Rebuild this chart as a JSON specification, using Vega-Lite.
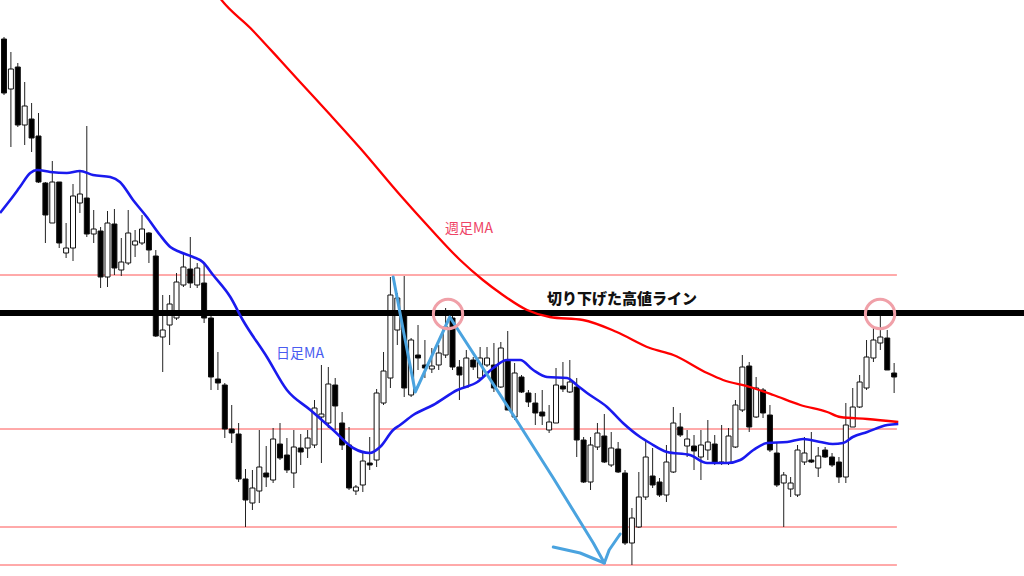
{
  "$schema": "https://vega.github.io/schema/vega-lite/v6.json",
  "width": 1024,
  "height": 576,
  "autosize": {"type": "fit", "contains": "padding"},
  "padding": 0,
  "background": "white",
  "config": {"view": {"stroke": null}, "scale": {"continuousPadding": 0}},
  "datasets": {
    "candles": [
      {"i":0,"o":105.37,"c":104.83,"h":105.39,"l":104.81},
      {"i":1,"o":104.87,"c":105.07,"h":105.24,"l":104.29},
      {"i":2,"o":105.09,"c":104.51,"h":105.13,"l":104.49},
      {"i":3,"o":104.51,"c":104.70,"h":104.94,"l":104.31},
      {"i":4,"o":104.57,"c":104.38,"h":104.73,"l":104.24},
      {"i":5,"o":104.40,"c":103.94,"h":104.63,"l":103.93},
      {"i":6,"o":103.93,"c":103.61,"h":103.94,"l":103.33},
      {"i":7,"o":103.53,"c":103.94,"h":104.15,"l":103.53},
      {"i":8,"o":103.94,"c":103.33,"h":103.94,"l":103.28},
      {"i":9,"o":103.23,"c":103.28,"h":103.53,"l":103.18},
      {"i":10,"o":103.28,"c":103.80,"h":103.92,"l":103.15},
      {"i":11,"o":103.73,"c":103.82,"h":104.06,"l":103.63},
      {"i":12,"o":103.78,"c":103.42,"h":104.50,"l":103.39},
      {"i":13,"o":103.42,"c":103.47,"h":103.66,"l":103.33},
      {"i":14,"o":103.45,"c":102.99,"h":103.49,"l":102.88},
      {"i":15,"o":102.99,"c":103.53,"h":103.65,"l":102.89},
      {"i":16,"o":103.52,"c":103.08,"h":103.67,"l":103.01},
      {"i":17,"o":103.06,"c":103.14,"h":103.38,"l":103.00},
      {"i":18,"o":103.13,"c":103.43,"h":103.66,"l":103.11},
      {"i":19,"o":103.31,"c":103.35,"h":103.46,"l":103.19},
      {"i":20,"o":103.33,"c":103.47,"h":103.61,"l":103.31},
      {"i":21,"o":103.43,"c":103.26,"h":103.44,"l":103.13},
      {"i":22,"o":103.20,"c":102.40,"h":103.26,"l":102.39},
      {"i":23,"o":102.39,"c":102.46,"h":102.81,"l":102.04},
      {"i":24,"o":102.51,"c":102.72,"h":102.81,"l":102.31},
      {"i":25,"o":102.58,"c":102.94,"h":103.03,"l":102.56},
      {"i":26,"o":102.91,"c":103.09,"h":103.23,"l":102.89},
      {"i":27,"o":103.07,"c":102.93,"h":103.39,"l":102.88},
      {"i":28,"o":102.91,"c":103.08,"h":103.13,"l":102.88},
      {"i":29,"o":102.93,"c":102.58,"h":103.13,"l":102.53},
      {"i":30,"o":102.58,"c":101.99,"h":102.66,"l":101.86},
      {"i":31,"o":101.97,"c":101.93,"h":102.24,"l":101.86},
      {"i":32,"o":101.91,"c":101.47,"h":101.93,"l":101.38},
      {"i":33,"o":101.47,"c":101.43,"h":101.71,"l":101.33},
      {"i":34,"o":101.42,"c":100.97,"h":101.53,"l":100.94},
      {"i":35,"o":100.97,"c":100.76,"h":101.07,"l":100.49},
      {"i":36,"o":100.73,"c":100.88,"h":101.06,"l":100.66},
      {"i":37,"o":100.85,"c":101.09,"h":101.46,"l":100.73},
      {"i":38,"o":101.03,"c":100.99,"h":101.30,"l":100.89},
      {"i":39,"o":100.96,"c":101.37,"h":101.48,"l":100.93},
      {"i":40,"o":101.32,"c":101.18,"h":101.53,"l":101.16},
      {"i":41,"o":101.21,"c":101.06,"h":101.38,"l":101.03},
      {"i":42,"o":101.03,"c":101.29,"h":101.46,"l":100.88},
      {"i":43,"o":101.28,"c":101.24,"h":101.42,"l":101.11},
      {"i":44,"o":101.28,"c":101.38,"h":101.46,"l":101.18},
      {"i":45,"o":101.31,"c":101.68,"h":101.76,"l":101.28},
      {"i":46,"o":101.59,"c":101.62,"h":102.11,"l":101.13},
      {"i":47,"o":101.53,"c":101.92,"h":102.09,"l":101.48},
      {"i":48,"o":101.91,"c":101.70,"h":101.98,"l":101.46},
      {"i":49,"o":101.53,"c":101.31,"h":101.64,"l":101.26},
      {"i":50,"o":101.31,"c":100.88,"h":101.49,"l":100.86},
      {"i":51,"o":100.85,"c":100.89,"h":100.91,"l":100.81},
      {"i":52,"o":100.91,"c":101.15,"h":101.23,"l":100.84},
      {"i":53,"o":101.13,"c":101.11,"h":101.39,"l":101.06},
      {"i":54,"o":101.16,"c":101.83,"h":101.87,"l":101.09},
      {"i":55,"o":101.73,"c":102.05,"h":102.24,"l":101.71},
      {"i":56,"o":101.98,"c":102.81,"h":102.99,"l":101.88},
      {"i":57,"o":102.46,"c":102.78,"h":102.83,"l":102.31},
      {"i":58,"o":102.64,"c":101.88,"h":103.00,"l":101.79},
      {"i":59,"o":101.81,"c":102.36,"h":102.38,"l":101.79},
      {"i":60,"o":102.21,"c":102.18,"h":102.51,"l":102.06},
      {"i":61,"o":102.11,"c":102.08,"h":102.36,"l":101.98},
      {"i":62,"o":102.07,"c":102.10,"h":102.28,"l":102.03},
      {"i":63,"o":102.11,"c":102.23,"h":102.31,"l":102.06},
      {"i":64,"o":102.21,"c":102.49,"h":102.68,"l":102.18},
      {"i":65,"o":102.58,"c":102.09,"h":102.66,"l":102.06},
      {"i":66,"o":102.09,"c":102.01,"h":102.16,"l":101.76},
      {"i":67,"o":101.89,"c":102.18,"h":102.26,"l":101.88},
      {"i":68,"o":102.16,"c":102.09,"h":102.19,"l":102.06},
      {"i":69,"o":101.98,"c":102.18,"h":102.29,"l":101.96},
      {"i":70,"o":102.11,"c":102.18,"h":102.29,"l":102.09},
      {"i":71,"o":102.11,"c":101.88,"h":102.33,"l":101.84},
      {"i":72,"o":101.89,"c":102.28,"h":102.34,"l":101.88},
      {"i":73,"o":102.16,"c":101.66,"h":102.45,"l":101.66},
      {"i":74,"o":101.59,"c":102.03,"h":102.13,"l":101.56},
      {"i":75,"o":101.99,"c":101.84,"h":102.01,"l":101.83},
      {"i":76,"o":101.83,"c":101.74,"h":101.86,"l":101.69},
      {"i":77,"o":101.73,"c":101.63,"h":101.83,"l":101.51},
      {"i":78,"o":101.64,"c":101.60,"h":101.86,"l":101.51},
      {"i":79,"o":101.46,"c":101.54,"h":101.71,"l":101.43},
      {"i":80,"o":101.53,"c":101.91,"h":102.08,"l":101.53},
      {"i":81,"o":101.90,"c":101.87,"h":102.14,"l":101.84},
      {"i":82,"o":101.84,"c":101.94,"h":102.16,"l":101.83},
      {"i":83,"o":101.89,"c":101.36,"h":101.98,"l":101.19},
      {"i":84,"o":101.36,"c":100.94,"h":101.39,"l":100.93},
      {"i":85,"o":100.94,"c":101.31,"h":101.39,"l":100.86},
      {"i":86,"o":101.29,"c":101.43,"h":101.53,"l":101.26},
      {"i":87,"o":101.40,"c":101.14,"h":101.62,"l":101.13},
      {"i":88,"o":101.11,"c":101.28,"h":101.44,"l":101.09},
      {"i":89,"o":101.27,"c":101.04,"h":101.34,"l":101.03},
      {"i":90,"o":101.03,"c":100.33,"h":101.06,"l":100.31},
      {"i":91,"o":100.33,"c":100.58,"h":100.68,"l":100.11},
      {"i":92,"o":100.49,"c":100.79,"h":101.04,"l":100.48},
      {"i":93,"o":100.79,"c":101.19,"h":101.36,"l":100.76},
      {"i":94,"o":101.00,"c":100.91,"h":101.28,"l":100.88},
      {"i":95,"o":100.94,"c":100.81,"h":100.98,"l":100.79},
      {"i":96,"o":100.81,"c":101.14,"h":101.31,"l":100.74},
      {"i":97,"o":101.04,"c":101.53,"h":101.69,"l":101.03},
      {"i":98,"o":101.49,"c":101.41,"h":101.63,"l":101.39},
      {"i":99,"o":101.30,"c":101.37,"h":101.46,"l":101.19},
      {"i":100,"o":101.30,"c":101.25,"h":101.41,"l":101.06},
      {"i":101,"o":101.19,"c":101.31,"h":101.46,"l":100.96},
      {"i":102,"o":101.26,"c":101.34,"h":101.56,"l":101.16},
      {"i":103,"o":101.32,"c":101.13,"h":101.41,"l":101.11},
      {"i":104,"o":101.13,"c":101.14,"h":101.51,"l":101.11},
      {"i":105,"o":101.13,"c":101.40,"h":101.48,"l":101.11},
      {"i":106,"o":101.29,"c":101.71,"h":101.76,"l":101.28},
      {"i":107,"o":101.66,"c":102.09,"h":102.21,"l":101.64},
      {"i":108,"o":102.10,"c":101.49,"h":102.14,"l":101.44},
      {"i":109,"o":101.59,"c":101.88,"h":101.99,"l":101.58},
      {"i":110,"o":101.86,"c":101.63,"h":101.88,"l":101.58},
      {"i":111,"o":101.61,"c":101.26,"h":101.71,"l":101.24},
      {"i":112,"o":101.23,"c":100.91,"h":101.33,"l":100.89},
      {"i":113,"o":100.93,"c":101.01,"h":101.04,"l":100.49},
      {"i":114,"o":100.87,"c":100.93,"h":100.99,"l":100.79},
      {"i":115,"o":100.81,"c":101.26,"h":101.31,"l":100.79},
      {"i":116,"o":101.14,"c":101.23,"h":101.39,"l":101.11},
      {"i":117,"o":101.16,"c":101.14,"h":101.44,"l":101.13},
      {"i":118,"o":101.08,"c":101.20,"h":101.29,"l":100.99},
      {"i":119,"o":101.26,"c":101.19,"h":101.29,"l":101.18},
      {"i":120,"o":101.19,"c":101.11,"h":101.23,"l":101.09},
      {"i":121,"o":101.14,"c":100.99,"h":101.19,"l":100.93},
      {"i":122,"o":100.99,"c":101.51,"h":101.73,"l":100.93},
      {"i":123,"o":101.49,"c":101.69,"h":101.88,"l":101.49},
      {"i":124,"o":101.69,"c":101.94,"h":102.01,"l":101.68},
      {"i":125,"o":101.88,"c":102.19,"h":102.36,"l":101.86},
      {"i":126,"o":102.18,"c":102.36,"h":102.48,"l":102.14},
      {"i":127,"o":102.33,"c":102.39,"h":102.61,"l":102.26},
      {"i":128,"o":102.38,"c":102.06,"h":102.46,"l":102.06},
      {"i":129,"o":102.03,"c":101.99,"h":102.13,"l":101.83}
    ],
    "dailyMA": [
      {"i":-0.58,"p":103.63},{"i":0.9,"p":103.76},{"i":2.3,"p":103.89},{"i":3.8,"p":104.03},
      {"i":4.8,"p":104.06},{"i":6.7,"p":104.04},{"i":9.1,"p":104.03},{"i":11.0,"p":104.05},
      {"i":12.9,"p":104.01},{"i":15.4,"p":103.99},{"i":16.8,"p":103.94},{"i":18.7,"p":103.76},
      {"i":20.7,"p":103.59},{"i":22.6,"p":103.41},{"i":24.1,"p":103.29},{"i":25.5,"p":103.24},
      {"i":27.4,"p":103.19},{"i":28.8,"p":103.14},{"i":30.3,"p":103.01},{"i":32.8,"p":102.79},
      {"i":34.6,"p":102.56},{"i":38.1,"p":102.19},{"i":41.0,"p":101.86},{"i":44.4,"p":101.66},
      {"i":47.7,"p":101.46},{"i":50.6,"p":101.28},{"i":53.0,"p":101.23},{"i":54.5,"p":101.29},
      {"i":56.4,"p":101.46},{"i":57.4,"p":101.51},{"i":59.3,"p":101.61},{"i":62.2,"p":101.71},
      {"i":65.7,"p":101.86},{"i":68.6,"p":101.94},{"i":70.9,"p":102.08},{"i":72.9,"p":102.16},
      {"i":74.8,"p":102.16},{"i":76.7,"p":102.06},{"i":78.7,"p":101.99},{"i":81.6,"p":101.98},
      {"i":83.0,"p":101.91},{"i":84.5,"p":101.83},{"i":87.4,"p":101.69},{"i":89.7,"p":101.53},
      {"i":92.2,"p":101.39},{"i":93.6,"p":101.33},{"i":96.1,"p":101.24},{"i":99.4,"p":101.21},
      {"i":101.9,"p":101.13},{"i":104.8,"p":101.13},{"i":106.7,"p":101.16},{"i":108.6,"p":101.26},
      {"i":110.6,"p":101.33},{"i":113.5,"p":101.34},{"i":115.8,"p":101.37},{"i":118.3,"p":101.34},
      {"i":120.1,"p":101.32},{"i":121.6,"p":101.33},{"i":123.0,"p":101.39},{"i":125.1,"p":101.44},
      {"i":128.0,"p":101.51},{"i":129.6,"p":101.52}
    ],
    "weeklyMA": [
      {"i":30.5,"p":105.86},{"i":31.3,"p":105.78},{"i":35.7,"p":105.48},{"i":40.0,"p":105.16},
      {"i":42.9,"p":104.94},{"i":47.3,"p":104.61},{"i":51.6,"p":104.28},{"i":57.4,"p":103.81},
      {"i":61.7,"p":103.48},{"i":66.1,"p":103.16},{"i":69.4,"p":102.96},{"i":71.9,"p":102.83},
      {"i":75.8,"p":102.66},{"i":79.1,"p":102.59},{"i":83.9,"p":102.56},{"i":88.8,"p":102.44},
      {"i":93.6,"p":102.28},{"i":97.0,"p":102.21},{"i":101.9,"p":102.03},{"i":104.2,"p":101.96},
      {"i":108.1,"p":101.89},{"i":111.5,"p":101.81},{"i":115.4,"p":101.71},{"i":119.3,"p":101.64},
      {"i":121.2,"p":101.59},{"i":125.1,"p":101.57},{"i":129.6,"p":101.54}
    ],
    "levels": [
      {"p":103.01,"a":-0.58,"b":129.4},
      {"p":101.47,"a":-0.58,"b":129.4},
      {"p":100.49,"a":-0.58,"b":129.4},
      {"p":100.11,"a":-0.58,"b":129.4}
    ],
    "resistance": [{"p":102.63,"a":-0.58,"b":147.82}],
    "sketch": [
      {"g":"zig","k":1,"i":56.4,"p":102.99},
      {"g":"zig","k":2,"i":58.0,"p":102.41},
      {"g":"zig","k":3,"i":59.6,"p":101.84},
      {"g":"zig","k":4,"i":64.6,"p":102.59},
      {"g":"zig","k":5,"i":73.8,"p":101.61},
      {"g":"zig","k":6,"i":79.6,"p":100.98},
      {"g":"zig","k":7,"i":85.4,"p":100.33},
      {"g":"zig","k":8,"i":87.0,"p":100.13},
      {"g":"arrow","k":1,"i":79.6,"p":100.29},
      {"g":"arrow","k":2,"i":83.5,"p":100.23},
      {"g":"arrow","k":3,"i":87.0,"p":100.13},
      {"g":"arrow","k":4,"i":87.7,"p":100.26},
      {"g":"arrow","k":5,"i":89.3,"p":100.42}
    ],
    "rings": [
      {"i":64.35,"p":102.62},
      {"i":126.96,"p":102.62}
    ]
  },
  "layer": [
    {
      "data": {"name": "levels"},
      "mark": {"type": "rule", "color": "#ff5555", "strokeWidth": 1, "clip": true},
      "encoding": {
        "x": {"field": "a", "type": "quantitative", "axis": null, "scale": {"domain": [-0.58, 147.82], "nice": false, "zero": false, "padding": 0}},
        "x2": {"field": "b"},
        "y": {"field": "p", "type": "quantitative", "axis": null, "scale": {"domain": [100, 105.76], "nice": false, "zero": false, "padding": 0}}
      }
    },
    {
      "data": {"name": "candles"},
      "mark": {"type": "rule", "color": "#222222", "strokeWidth": 1, "clip": true},
      "encoding": {
        "x": {"field": "i", "type": "quantitative", "axis": null, "scale": {"domain": [-0.58, 147.82], "nice": false, "zero": false, "padding": 0}},
        "y": {"field": "l", "type": "quantitative", "axis": null, "scale": {"domain": [100, 105.76], "nice": false, "zero": false, "padding": 0}},
        "y2": {"field": "h"}
      }
    },
    {
      "data": {"name": "candles"},
      "mark": {"type": "bar", "size": 5, "stroke": "#111111", "strokeWidth": 1, "clip": true},
      "encoding": {
        "x": {"field": "i", "type": "quantitative", "axis": null, "scale": {"domain": [-0.58, 147.82], "nice": false, "zero": false, "padding": 0}},
        "y": {"field": "o", "type": "quantitative", "axis": null, "scale": {"domain": [100, 105.76], "nice": false, "zero": false, "padding": 0}},
        "y2": {"field": "c"},
        "fill": {"condition": {"test": "datum.o > datum.c", "value": "#000000"}, "value": "#ffffff"}
      }
    },
    {
      "data": {"name": "resistance"},
      "mark": {"type": "rule", "color": "#000000", "strokeWidth": 6, "clip": true},
      "encoding": {
        "x": {"field": "a", "type": "quantitative", "axis": null, "scale": {"domain": [-0.58, 147.82], "nice": false, "zero": false, "padding": 0}},
        "x2": {"field": "b"},
        "y": {"field": "p", "type": "quantitative", "axis": null, "scale": {"domain": [100, 105.76], "nice": false, "zero": false, "padding": 0}}
      }
    },
    {
      "data": {"name": "weeklyMA"},
      "mark": {"type": "line", "color": "#ff0000", "strokeWidth": 2.3, "interpolate": "monotone", "clip": true},
      "encoding": {
        "x": {"field": "i", "type": "quantitative", "axis": null, "scale": {"domain": [-0.58, 147.82], "nice": false, "zero": false, "padding": 0}},
        "y": {"field": "p", "type": "quantitative", "axis": null, "scale": {"domain": [100, 105.76], "nice": false, "zero": false, "padding": 0}}
      }
    },
    {
      "data": {"name": "dailyMA"},
      "mark": {"type": "line", "color": "#1a1aee", "strokeWidth": 2.6, "interpolate": "monotone", "clip": true},
      "encoding": {
        "x": {"field": "i", "type": "quantitative", "axis": null, "scale": {"domain": [-0.58, 147.82], "nice": false, "zero": false, "padding": 0}},
        "y": {"field": "p", "type": "quantitative", "axis": null, "scale": {"domain": [100, 105.76], "nice": false, "zero": false, "padding": 0}}
      }
    },
    {
      "data": {"name": "sketch"},
      "mark": {"type": "line", "color": "#4aa3df", "strokeWidth": 3, "strokeCap": "round", "strokeJoin": "round", "clip": true},
      "encoding": {
        "x": {"field": "i", "type": "quantitative", "axis": null, "scale": {"domain": [-0.58, 147.82], "nice": false, "zero": false, "padding": 0}},
        "y": {"field": "p", "type": "quantitative", "axis": null, "scale": {"domain": [100, 105.76], "nice": false, "zero": false, "padding": 0}},
        "detail": {"field": "g"},
        "order": {"field": "k"}
      }
    },
    {
      "data": {"name": "rings"},
      "mark": {"type": "point", "shape": "circle", "filled": false, "size": 860, "stroke": "#f0a0a8", "strokeWidth": 3, "opacity": 1},
      "encoding": {
        "x": {"field": "i", "type": "quantitative", "axis": null, "scale": {"domain": [-0.58, 147.82], "nice": false, "zero": false, "padding": 0}},
        "y": {"field": "p", "type": "quantitative", "axis": null, "scale": {"domain": [100, 105.76], "nice": false, "zero": false, "padding": 0}}
      }
    },
    {
      "data": {"values": [
        {"i": 89.57, "p": 102.77, "t": "切り下げた高値ライン"}
      ]},
      "mark": {"type": "text", "font": "Noto Sans CJK JP", "fontSize": 15, "fontWeight": 900, "color": "#111111", "align": "center", "baseline": "middle"},
      "encoding": {
        "x": {"field": "i", "type": "quantitative", "axis": null, "scale": {"domain": [-0.58, 147.82], "nice": false, "zero": false, "padding": 0}},
        "y": {"field": "p", "type": "quantitative", "axis": null, "scale": {"domain": [100, 105.76], "nice": false, "zero": false, "padding": 0}},
        "text": {"field": "t"}
      }
    },
    {
      "data": {"values": [
        {"i": 67.39, "p": 103.47, "t": "週足MA", "c": "weekly"},
        {"i": 42.9, "p": 102.22, "t": "日足MA", "c": "daily"}
      ]},
      "mark": {"type": "text", "font": "Noto Sans CJK JP", "fontSize": 14, "align": "center", "baseline": "middle"},
      "encoding": {
        "x": {"field": "i", "type": "quantitative", "axis": null, "scale": {"domain": [-0.58, 147.82], "nice": false, "zero": false, "padding": 0}},
        "y": {"field": "p", "type": "quantitative", "axis": null, "scale": {"domain": [100, 105.76], "nice": false, "zero": false, "padding": 0}},
        "text": {"field": "t"},
        "color": {"field": "c", "type": "nominal", "legend": null, "scale": {"domain": ["weekly", "daily"], "range": ["#ee4466", "#4a5cf0"]}}
      }
    }
  ]
}
